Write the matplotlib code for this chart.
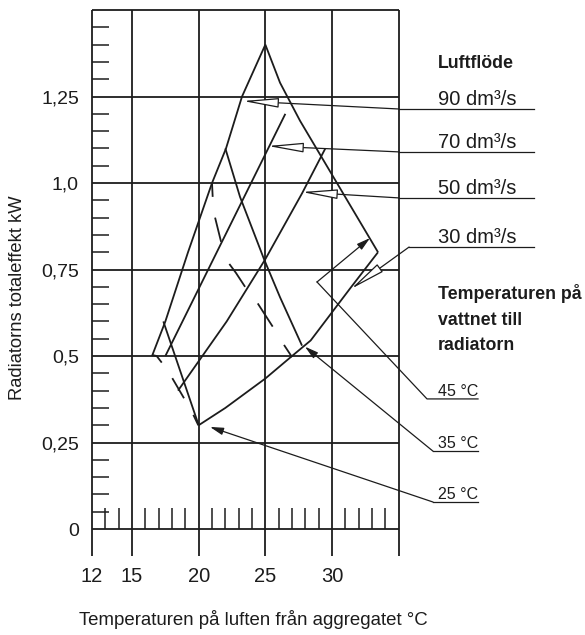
import matplotlib.pyplot as plt

plt.rcParams['font.family'] = ['Liberation Sans', 'DejaVu Sans']

INK = '#1c1c1c'

# output (kW) against air temperature after the unit (°C), one line per air flow
flow90_x = [16.5, 17.5, 19.2, 21.0, 22.05, 23.25, 25.0]
flow90_y = [0.50, 0.60, 0.80, 1.00, 1.10, 1.25, 1.40]
flow70_x = [17.5, 26.5]
flow70_y = [0.50, 1.20]
flow50_x = [18.45, 22.1, 25.0, 27.75, 29.5]
flow50_y = [0.40, 0.60, 0.78, 0.97, 1.10]
flow30_x = [20.0, 22.0, 25.0, 27.0, 28.4, 31.35, 33.45]
flow30_y = [0.30, 0.35, 0.435, 0.50, 0.545, 0.695, 0.80]

# lines of constant water temperature
water45_x = [25.0, 25.7, 26.1, 27.6, 33.45]
water45_y = [1.40, 1.33, 1.29, 1.18, 0.80]
water35_x = [22.0, 23.1, 24.9, 26.1, 27.75]
water35_y = [1.10, 0.96, 0.78, 0.67, 0.53]
water25_x = [17.35, 20.0]
water25_y = [0.60, 0.30]

# broken lines, one list of (x, y) points per dash
dashes_upper = [
    [(21.0, 1.00), (21.05, 0.96)],
    [(21.23, 0.90), (21.68, 0.83)],
    [(22.3, 0.766), (22.8, 0.74), (23.48, 0.70)],
    [(24.43, 0.652), (25.55, 0.585)],
    [(26.4, 0.532), (27.0, 0.497)],
]
dashes_lower = [
    [(16.5, 0.503), (16.85, 0.500), (17.23, 0.481)],
    [(18.02, 0.436), (18.9, 0.378)],
    [(19.6, 0.33), (19.97, 0.30)],
]

# air flow legend: arrow tip on the curve, leader bend, underline level
flow_labels = ['90 dm³/s', '70 dm³/s', '50 dm³/s', '30 dm³/s']
flow_tip_x = [23.33, 25.2, 27.75, 31.43]
flow_tip_y = [1.237, 1.107, 0.974, 0.694]
flow_bend_x = [35.0, 35.0, 35.0, 35.78]
flow_line_y = [1.214, 1.09, 0.957, 0.815]

# water temperature legend: leader paths, the last point is the arrow tip
water_labels = ['45 °C', '35 °C', '25 °C']
water_line_y = [0.376, 0.225, 0.078]
water_paths = [
    [(40.95, 0.376), (37.125, 0.376), (28.875, 0.714), (32.85, 0.841)],
    [(40.95, 0.225), (37.575, 0.225), (27.97, 0.527)],
    [(40.95, 0.078), (37.575, 0.078), (20.85, 0.295)],
]

x_major = [12, 15, 20, 25, 30]
x_labels = ['12', '15', '20', '25', '30']
x_minor = [13, 14, 16, 17, 18, 19, 21, 22, 23, 24, 26, 27, 28, 29, 31, 32, 33, 34]
y_major = [0, 0.25, 0.5, 0.75, 1.0, 1.25]
y_labels = ['0', '0,25', '0,5', '0,75', '1,0', '1,25']
y_minor = [k * 0.05 for k in range(1, 30) if k % 5]

fig = plt.figure(figsize=(5.85, 6.35), dpi=100)
ax = fig.add_axes([0.1573, 0.1244, 0.5242, 0.8598])
ax.set_xlim(12, 35)
ax.set_ylim(-0.078, 1.5)
for s in ax.spines.values():
    s.set_visible(False)

# frame, grid and the short scale marks
ax.vlines([12, 15, 20, 25, 30, 35], -0.078, 1.5, color=INK, lw=1.3, clip_on=False)
ax.hlines([0, 0.25, 0.5, 0.75, 1.0, 1.25, 1.5], 12, 35, color=INK, lw=1.3, clip_on=False)
ax.vlines(x_minor, 0, 0.062, color=INK, lw=1.1)
ax.hlines(y_minor, 12, 13.27, color=INK, lw=1.1)

ax.set_xticks(x_major, x_labels)
ax.set_yticks(y_major, y_labels)
ax.tick_params(axis='x', length=0, pad=8, labelsize=14.5, colors=INK)
ax.tick_params(axis='y', length=0, pad=9.4, labelsize=14, colors=INK)

lw = 1.3
for xs, ys in [(flow90_x, flow90_y), (flow70_x, flow70_y), (flow50_x, flow50_y),
               (flow30_x, flow30_y), (water45_x, water45_y), (water35_x, water35_y),
               (water25_x, water25_y)]:
    ax.plot(xs, ys, color=INK, lw=lw, solid_capstyle='butt')

for dash in dashes_upper + dashes_lower:
    ax.plot([p[0] for p in dash], [p[1] for p in dash], color=INK, lw=lw,
            solid_capstyle='butt')

# air flow legend with open arrowheads
ax.text(37.95, 1.332, 'Luftflöde', fontsize=12.8, fontweight='bold', color=INK,
        va='baseline')
for lab, tx, ty, bx, ly in zip(flow_labels, flow_tip_x, flow_tip_y, flow_bend_x, flow_line_y):
    ax.plot([bx, 45.15], [ly, ly], color=INK, lw=0.9, clip_on=False)
    ax.annotate('', xy=(tx, ty), xytext=(bx, ly), annotation_clip=False,
                arrowprops=dict(arrowstyle='-|>,head_length=2.2,head_width=0.3',
                                fc='white', ec=INK, lw=0.9, shrinkA=0, shrinkB=0,
                                mutation_scale=10))
    ax.text(37.95, ly + 0.012, lab, fontsize=14.5, color=INK, va='baseline')

# water temperature legend with filled arrowheads
for row, yy in zip(['Temperaturen på', 'vattnet till', 'radiatorn'], [0.665, 0.590, 0.517]):
    ax.text(37.95, yy, row, fontsize=12.8, fontweight='bold', color=INK, va='baseline')
for lab, ly, path in zip(water_labels, water_line_y, water_paths):
    ax.plot([p[0] for p in path[:-1]], [p[1] for p in path[:-1]], color=INK, lw=0.9,
            clip_on=False)
    ax.annotate('', xy=path[-1], xytext=path[-2], annotation_clip=False,
                arrowprops=dict(arrowstyle='-|>,head_length=0.8,head_width=0.22',
                                fc=INK, ec=INK, lw=0.9, shrinkA=0, shrinkB=0,
                                mutation_scale=10))
    ax.text(37.95, ly + 0.008, lab, fontsize=11.5, color=INK, va='baseline')

fig.text(17.5 / 585, 1 - 297.5 / 635, 'Radiatorns totaleffekt kW', rotation=90,
         ha='center', va='center', fontsize=13.2, color=INK)
fig.text(253 / 585, 10 / 635, 'Temperaturen på luften från aggregatet °C',
         ha='center', va='baseline', fontsize=13.4, color=INK)

fig.savefig('out.png', dpi=100)
